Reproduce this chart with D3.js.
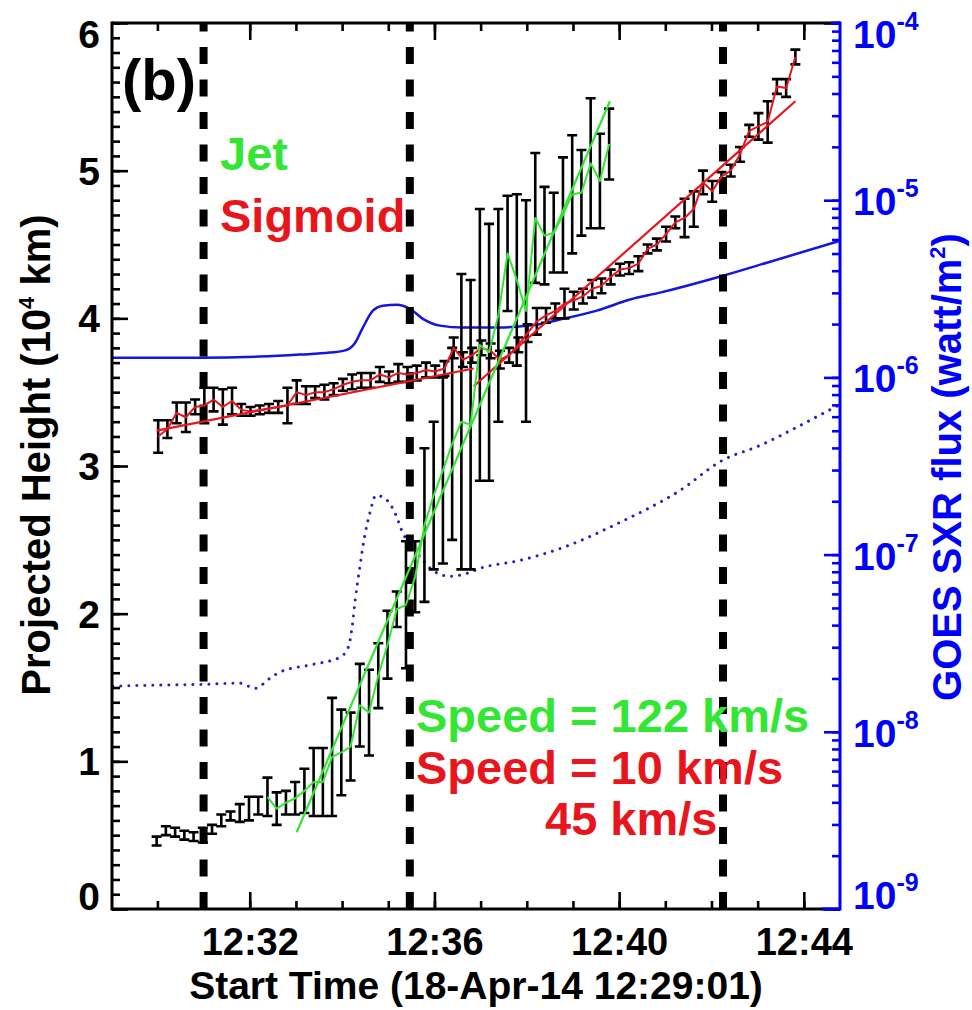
<!DOCTYPE html>
<html><head><meta charset="utf-8">
<script src="https://cdn.jsdelivr.net/npm/d3@7"></script>
<style>body{margin:0;background:#fff}svg{display:block}</style>
</head><body><svg id="c" width="972" height="1010"></svg>
<script>
// ---------------- DATA (time in seconds since 12:29:01) ----------------
const sigT = [60,72,84,96,108,120,132,144,156,168,180,192,204,216,228,240,252,264,276,288,300,312,324,336,348,360,372,384,396,408,420,432,444,456,468,480,492,504,516,528,540,552,564,576,588,600,612,624,636,648,660,672,684,696,708,720,732,744,756,768,780,792,804,816,828,840,852,864,876,888];
const sigH = [3.20,3.25,3.36,3.33,3.40,3.41,3.45,3.40,3.44,3.38,3.37,3.38,3.39,3.40,3.41,3.50,3.48,3.50,3.50,3.52,3.55,3.57,3.58,3.58,3.62,3.60,3.63,3.62,3.63,3.65,3.64,3.66,3.80,3.72,3.75,3.80,3.78,3.72,3.75,3.82,3.90,3.98,4.02,4.05,4.10,4.12,4.15,4.20,4.22,4.28,4.33,4.34,4.37,4.47,4.50,4.57,4.65,4.68,4.74,4.92,4.86,4.96,5.00,5.11,5.27,5.30,5.33,5.57,5.56,5.77];
const sigE = [0.11,0.06,0.07,0.10,0.05,0.12,0.08,0.12,0.09,0.04,0.03,0.03,0.03,0.04,0.12,0.08,0.06,0.04,0.05,0.04,0.04,0.05,0.05,0.05,0.05,0.04,0.06,0.05,0.05,0.05,0.04,0.05,0.07,0.05,0.05,0.05,0.05,0.06,0.05,0.05,0.06,0.09,0.05,0.05,0.10,0.06,0.05,0.06,0.05,0.05,0.04,0.04,0.05,0.03,0.04,0.05,0.04,0.13,0.12,0.08,0.07,0.03,0.04,0.05,0.04,0.09,0.14,0.05,0.06,0.05];

const jetT = [58,70,82,94,106,118,130,142,154,166,178,190,202,214,226,238,250,262,274,286,298,310,322,334,346,358,370,382,394,406,418,430,442,454,466,478,490,502,514,526,538,550,562,574,586,598,610,622,634,646];
const jetH = [0.46,0.53,0.52,0.50,0.49,0.50,0.54,0.60,0.63,0.65,0.68,0.70,0.76,0.68,0.72,0.75,0.80,0.86,0.86,1.03,1.06,1.10,1.38,1.33,1.58,1.79,2.03,2.06,2.25,2.60,2.80,2.97,3.15,3.30,3.28,3.82,3.77,4.02,4.44,4.26,4.05,4.68,4.56,4.58,4.70,4.84,4.85,5.05,4.93,5.18];
const jetE = [0.03,0.03,0.03,0.03,0.03,0.05,0.03,0.04,0.03,0.06,0.08,0.06,0.13,0.11,0.08,0.11,0.15,0.23,0.23,0.40,0.29,0.23,0.28,0.29,0.22,0.23,0.12,0.43,0.24,0.52,0.50,0.63,0.65,1.00,0.98,0.92,0.87,0.72,0.39,0.58,0.75,0.44,0.33,0.27,0.39,0.40,0.29,0.44,0.32,0.24];
const jetLineFrom = 202;

const sigFit1T = [58, 470],  sigFit1H = [3.24, 3.66];
const sigFit2T = [470, 888], sigFit2H = [3.54, 5.47];
const jetFitT  = [240, 647], jetFitH  = [0.52, 5.47];

const goesT1 = [0,114,192,244,283,303,316,326,339,352,370,387,404,426,456,500,543,586,630,673,712,794,851,946];
const goesF1 = [1.29e-6,1.29e-6,1.31e-6,1.345e-6,1.38e-6,1.42e-6,1.57e-6,1.91e-6,2.38e-6,2.54e-6,2.57e-6,2.44e-6,2.14e-6,1.96e-6,1.91e-6,1.91e-6,1.96e-6,2.14e-6,2.38e-6,2.75e-6,3.01e-6,3.75e-6,4.44e-6,5.90e-6];
const goesT2 = [1,49,114,166,186,205,218,261,296,307,312,316,322,329,335,343,355,368,378,391,404,417,439,461,478,530,582,660,738,793,842,894,943];
const goesF2 = [1.81e-8,1.83e-8,1.85e-8,1.88e-8,1.76e-8,2.00e-8,2.17e-8,2.40e-8,2.63e-8,3.00e-8,3.89e-8,5.52e-8,8.48e-8,1.32e-7,1.71e-7,2.16e-7,2.07e-7,1.71e-7,1.32e-7,1.10e-7,9.27e-8,8.14e-8,7.54e-8,7.83e-8,8.36e-8,9.27e-8,1.08e-7,1.52e-7,2.3e-7,3.4e-7,4.13e-7,5.35e-7,6.93e-7];

const markerT = [119, 387, 794];
const minuteTicks = [59,119,179,239,299,359,419,479,539,599,659,719,779,839,899];
const majorTicks = [179,419,659,899];
const xTickLabels = ["12:32","12:36","12:40","12:44"];
const yTicks = [0,1,2,3,4,5,6];
const fluxExp = [-9,-8,-7,-6,-5,-4];

// ---------------- LAYOUT ----------------
const L=112, R=840, T=23, B=909;
const FONT = '"Liberation Sans", Arial, Helvetica, sans-serif';
const RED='#e8161c', GREEN='#33e633', BLUE='#0000ff';
const x = d3.scaleLinear().domain([0,946]).range([L,R]);
const y = d3.scaleLinear().domain([0,6]).range([B,T]);
const yF = d3.scaleLog().domain([1e-9,1e-4]).range([B,T]);

const svg = d3.select('#c');
svg.append('rect').attr('width',972).attr('height',1010).attr('fill','#fff');
svg.append('defs').append('clipPath').attr('id','clip')
  .append('rect').attr('x',L).attr('y',T).attr('width',R-L).attr('height',B-T);
const plot = svg.append('g').attr('clip-path','url(#clip)');

// GOES curves
const lineF = d3.line().x(d=>x(d[0])).y(d=>yF(d[1])).curve(d3.curveMonotoneX);
plot.append('path').datum(goesT2.map((t,i)=>[t,goesF2[i]])).attr('d',lineF)
  .attr('fill','none').attr('stroke','#2323b8').attr('stroke-width',3)
  .attr('stroke-linecap','round').attr('stroke-dasharray','0.01 8');
plot.append('path').datum(goesT1.map((t,i)=>[t,goesF1[i]])).attr('d',lineF)
  .attr('fill','none').attr('stroke','#1515e0').attr('stroke-width',2.5);

// dashed markers
plot.selectAll('line.mk').data(markerT).join('line').attr('class','mk')
  .attr('x1',d=>x(d)).attr('x2',d=>x(d)).attr('y1',B).attr('y2',T)
  .attr('stroke','#000').attr('stroke-width',8).attr('stroke-dasharray','17 15.5');

// error bars
function errBars(ts,hs,es){
  plot.append('g').selectAll('path').data(ts.map((t,i)=>[t,hs[i],es[i]])).join('path')
    .attr('d',d=>{const px=x(d[0]), a=y(d[1]+d[2]), b=y(d[1]-d[2]);
      return `M${px-5},${a}H${px+5}M${px},${a}V${b}M${px-5},${b}H${px+5}`;})
    .attr('fill','none').attr('stroke','#000').attr('stroke-width',2.6);
}
errBars(jetT,jetH,jetE);
errBars(sigT,sigH,sigE);

const lineH = d3.line().x(d=>x(d[0])).y(d=>y(d[1]));
function drawLine(ts,hs,color,w){
  plot.append('path').datum(ts.map((t,i)=>[t,hs[i]])).attr('d',lineH)
    .attr('fill','none').attr('stroke',color).attr('stroke-width',w).attr('stroke-linejoin','round');
}
drawLine(sigT,sigH,RED,2);
drawLine(sigFit1T,sigFit1H,RED,2.2);
drawLine(sigFit2T,sigFit2H,RED,2.2);
const jIdx = jetT.map((t,i)=>i).filter(i=>jetT[i]>=jetLineFrom);
drawLine(jIdx.map(i=>jetT[i]), jIdx.map(i=>jetH[i]), GREEN, 2);
drawLine(jetFitT,jetFitH,GREEN,2.2);

// ---------------- AXES ----------------
function styleAxis(g,color){
  g.select('.domain').remove();
  g.selectAll('line').attr('stroke',color).attr('stroke-width',2.6);
}
const ax = svg.append('g');
ax.append('g').attr('transform',`translate(0,${B})`)
  .call(d3.axisBottom(x).tickValues(minuteTicks).tickSize(-8).tickFormat(''))
  .call(g=>styleAxis(g,'#000'));
const bMaj = ax.append('g').attr('transform',`translate(0,${B})`)
  .call(d3.axisBottom(x).tickValues(majorTicks).tickSize(-17).tickFormat((d,i)=>xTickLabels[i]))
  .call(g=>styleAxis(g,'#000'));
bMaj.selectAll('text').attr('y',46).attr('dy',0).attr('fill','#000')
  .style('font-family',FONT).style('font-weight','bold').style('font-size','38px');
ax.append('g').attr('transform',`translate(0,${T})`)
  .call(d3.axisTop(x).tickValues(minuteTicks).tickSize(-8).tickFormat(''))
  .call(g=>styleAxis(g,'#000'));
ax.append('g').attr('transform',`translate(0,${T})`)
  .call(d3.axisTop(x).tickValues(majorTicks).tickSize(-17).tickFormat(''))
  .call(g=>styleAxis(g,'#000'));
ax.append('g').attr('transform',`translate(${L},0)`)
  .call(d3.axisLeft(y).tickValues(y.ticks(60)).tickSize(-8).tickFormat(''))
  .call(g=>styleAxis(g,'#000'));
ax.append('g').attr('transform',`translate(${L},0)`)
  .call(d3.axisLeft(y).tickValues(yTicks).tickSize(-16).tickFormat(''))
  .call(g=>styleAxis(g,'#000'));
ax.append('g').attr('transform',`translate(${R},0)`)
  .call(d3.axisRight(yF).tickValues(yF.ticks()).tickSize(-8).tickFormat(''))
  .call(g=>styleAxis(g,BLUE));
ax.append('g').attr('transform',`translate(${R},0)`)
  .call(d3.axisRight(yF).tickValues(fluxExp.map(e=>Math.pow(10,e))).tickSize(-16).tickFormat(''))
  .call(g=>styleAxis(g,BLUE));

// frame
ax.append('line').attr('x1',L).attr('x2',R).attr('y1',B).attr('y2',B).attr('stroke','#000').attr('stroke-width',3);
ax.append('line').attr('x1',L).attr('x2',R).attr('y1',T).attr('y2',T).attr('stroke','#000').attr('stroke-width',3);
ax.append('line').attr('x1',R-18).attr('x2',R).attr('y1',B).attr('y2',B).attr('stroke',BLUE).attr('stroke-width',3);
ax.append('line').attr('x1',R-9).attr('x2',R).attr('y1',T).attr('y2',T).attr('stroke',BLUE).attr('stroke-width',3);
ax.append('line').attr('x1',L).attr('x2',L).attr('y1',T-1.5).attr('y2',B+1.5).attr('stroke','#000').attr('stroke-width',3);
ax.append('line').attr('x1',R).attr('x2',R).attr('y1',T-1.5).attr('y2',B+1.5).attr('stroke',BLUE).attr('stroke-width',3);

// left tick labels
svg.append('g').selectAll('text').data(yTicks).join('text')
  .attr('x',100).attr('y',d=>y(d)+14+(d===6?11:d===0?-13:0))
  .attr('text-anchor','end').attr('fill','#000')
  .style('font-family',FONT).style('font-weight','bold').style('font-size','39px')
  .text(d=>d);

// right tick labels
const rl = svg.append('g').selectAll('text').data(fluxExp).join('text')
  .attr('x',853).attr('y',d=>yF(Math.pow(10,d))+15+(d===-4?10:d===-9?-15:0))
  .attr('fill',BLUE).style('font-family',FONT).style('font-weight','bold').style('font-size','39px');
rl.append('tspan').text('10');
rl.append('tspan').attr('dy',-18).style('font-size','25px').text(d=>'-'+Math.abs(d));

// titles
svg.append('text').attr('x',476).attr('y',999).attr('text-anchor','middle').attr('fill','#000')
  .style('font-family',FONT).style('font-weight','bold').style('font-size','39px')
  .text('Start Time (18-Apr-14 12:29:01)');
const lt = svg.append('text').attr('transform','translate(50,455) rotate(-90)').attr('text-anchor','middle')
  .attr('fill','#000').style('font-family',FONT).style('font-weight','bold').style('font-size','40px');
lt.append('tspan').text('Projected Height (10');
lt.append('tspan').attr('dy',-16).style('font-size','22px').text('4');
lt.append('tspan').attr('dy',16).text(' km)');
const rt = svg.append('text').attr('transform','translate(961,467) rotate(-90)').attr('text-anchor','middle')
  .attr('fill',BLUE).style('font-family',FONT).style('font-weight','bold').style('font-size','40px');
rt.append('tspan').text('GOES SXR flux (watt/m');
rt.append('tspan').attr('dy',-16).style('font-size','22px').text('2');
rt.append('tspan').attr('dy',16).text(')');

// annotations
function label(txt,xp,yp,color,size){
  svg.append('text').attr('x',xp).attr('y',yp).attr('fill',color)
    .style('font-family',FONT).style('font-weight','bold').style('font-size',size+'px').text(txt);
}
label('(b)',122,100,'#000',58);
label('Jet',220,170,GREEN,47);
label('Sigmoid',220,232,RED,47);
label('Speed = 122 km/s',416,732,GREEN,47);
label('Speed = 10 km/s',416,784,RED,47);
label('45 km/s',545,835,RED,47);
</script></body></html>
